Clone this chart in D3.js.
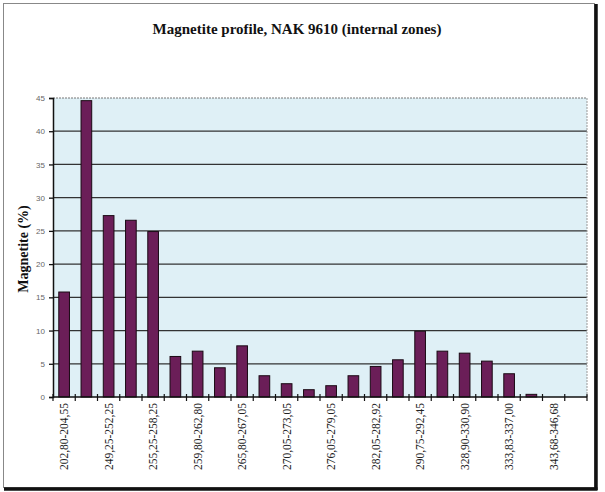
<!DOCTYPE html>
<html><head><meta charset="utf-8">
<script src="https://cdn.jsdelivr.net/npm/d3@7"></script>
<style>body{margin:0;background:#fff}svg{display:block}</style>
</head><body>
<script>
const categories = ["202,80-204,55","","249,25-252,25","","255,25-258,25","","259,80-262,80","","265,80-267,05","","270,05-273,05","","276,05-279,05","","282,05-282,92","","290,75-292,45","","328,90-330,90","","333,83-337,00","","343,68-346,68",""];
const magnetite = [15.8,44.6,27.3,26.6,24.9,6.1,6.9,4.4,7.7,3.2,2.0,1.1,1.7,3.2,4.6,5.6,9.9,6.9,6.6,5.4,3.5,0.4,0,0];
const yTicks = [0,5,10,15,20,25,30,35,40,45];
const title = "Magnetite profile, NAK 9610 (internal zones)";
const yLabel = "Magnetite (%)";

const W=605,H=492;
const svg=d3.select("body").append("svg").attr("width",W).attr("height",H);
// frame
svg.append("rect").attr("x",3.5).attr("y",3.5).attr("width",591).attr("height",484).attr("fill","#fff").attr("stroke","#888").attr("stroke-width",1);
svg.append("line").attr("x1",596).attr("x2",596).attr("y1",4).attr("y2",490).attr("stroke","#111").attr("stroke-width",3.5);
svg.append("line").attr("x1",4).attr("x2",597.5).attr("y1",489).attr("y2",489).attr("stroke","#111").attr("stroke-width",3.5);

const m={l:53,r:587,t:98,b:397};
const idx=d3.range(categories.length);
const x=d3.scaleBand().domain(idx).range([m.l,m.r]).paddingInner(0.52).paddingOuter(0.26);
const y=d3.scaleLinear().domain([0,45]).range([m.b,m.t]);

svg.append("rect").attr("x",m.l).attr("y",m.t).attr("width",m.r-m.l).attr("height",m.b-m.t).attr("fill","#dff0f6");
// grid
svg.append("g").selectAll("line").data(yTicks.filter(d=>d>0&&d<45)).join("line")
 .attr("x1",m.l).attr("x2",m.r).attr("y1",d=>y(d)).attr("y2",d=>y(d)).attr("stroke","#333").attr("stroke-width",1.3);
svg.append("line").attr("x1",m.l).attr("x2",m.r).attr("y1",y(45)).attr("y2",y(45)).attr("stroke","#777").attr("stroke-width",1).attr("stroke-dasharray","2,1");
svg.append("line").attr("x1",m.r).attr("x2",m.r).attr("y1",m.t).attr("y2",m.b).attr("stroke","#999").attr("stroke-width",1).attr("stroke-dasharray","2,1");

// bars
svg.append("g").selectAll("rect").data(magnetite).join("rect")
 .attr("x",(d,i)=>x(i)).attr("width",x.bandwidth())
 .attr("y",d=>y(d)).attr("height",d=>y(0)-y(d))
 .attr("fill","#6b1e58").attr("stroke","#1a0a14").attr("stroke-width",1)
 .style("display",d=>d>0?null:"none");

// y axis
const ya=svg.append("g").attr("transform",`translate(${m.l},0)`).call(d3.axisLeft(y).tickValues(yTicks).tickSize(4).tickPadding(4));
ya.select(".domain").attr("stroke","#111").attr("stroke-width",1.5);
ya.selectAll(".tick line").attr("stroke","#111").attr("stroke-width",1.3);
ya.selectAll("text").attr("font-family","Liberation Sans, Arial, sans-serif").attr("font-size",8).attr("fill","#666");

// x axis
const step=x.step();
const xa=svg.append("g").attr("transform",`translate(0,${m.b})`);
xa.append("line").attr("x1",m.l).attr("x2",m.r).attr("y1",0).attr("y2",0).attr("stroke","#111").attr("stroke-width",1.5);
xa.selectAll("line.tk").data(d3.range(categories.length+1)).join("line").attr("class","tk")
 .attr("x1",i=>m.l+i*step).attr("x2",i=>m.l+i*step).attr("y1",-3).attr("y2",4).attr("stroke","#111").attr("stroke-width",1.2);
xa.selectAll("text").data(idx.filter(i=>categories[i])).join("text")
 .attr("transform",i=>`translate(${x(i)+x.bandwidth()/2+4},6) rotate(-90)`)
 .attr("text-anchor","end").attr("font-family","Liberation Serif, Times New Roman, serif").attr("font-size",11.5).attr("fill","#222")
 .text(i=>categories[i]);

svg.append("text").attr("x",297).attr("y",34).attr("text-anchor","middle")
 .attr("font-family","Liberation Serif, Times New Roman, serif").attr("font-weight","bold").attr("font-size",15).attr("fill","#111").text(title);
svg.append("text").attr("transform","translate(28,249) rotate(-90)").attr("text-anchor","middle")
 .attr("font-family","Liberation Serif, Times New Roman, serif").attr("font-weight","bold").attr("font-size",14).attr("fill","#111").text(yLabel);
</script>
</body></html>
